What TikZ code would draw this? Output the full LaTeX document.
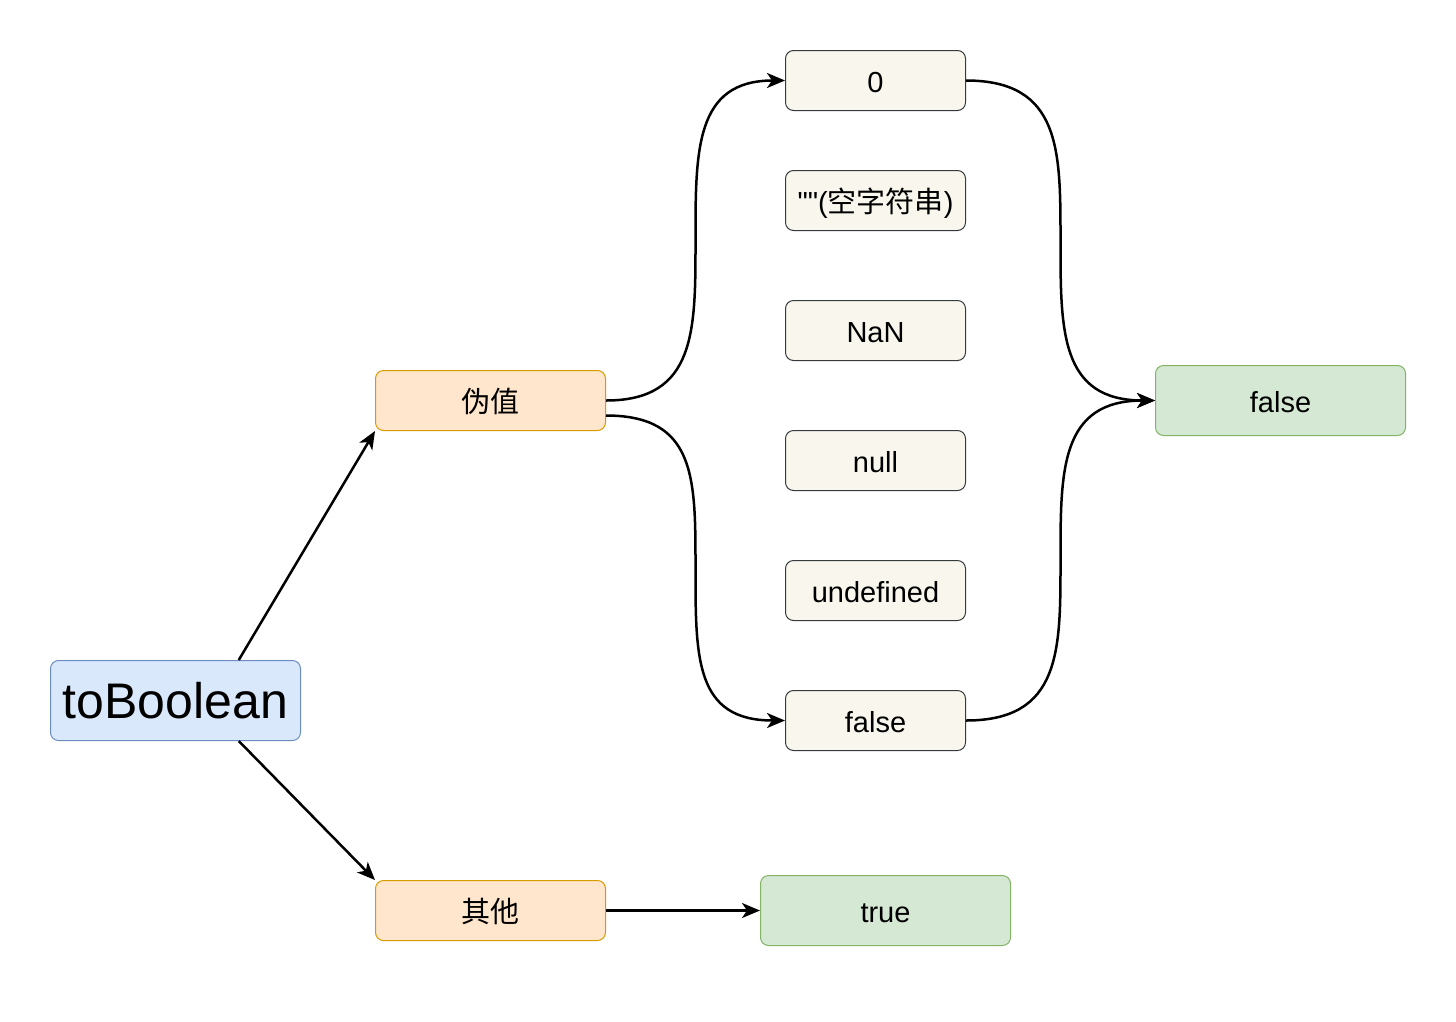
\documentclass[tikz,border=0pt]{standalone}
\usepackage{fontspec}
\setmainfont{Liberation Sans}
\newfontfamily\rawfont{Liberation Sans}[Ligatures=TeXOff]
\newfontfamily\cjk{Noto Sans CJK SC}
\usetikzlibrary{arrows.meta,calc}
\definecolor{bluefill}{HTML}{DAE8FC}
\definecolor{blueline}{HTML}{6C8EBF}
\definecolor{orfill}{HTML}{FFE6CC}
\definecolor{orline}{HTML}{D79B00}
\definecolor{grfill}{HTML}{D5E8D4}
\definecolor{grline}{HTML}{82B366}
\definecolor{bgfill}{HTML}{F9F7ED}
\definecolor{bgline}{HTML}{36393D}
\begin{document}
\begin{tikzpicture}[x=1pt,y=-1pt,
  box/.style={rounded corners=8pt,line width=1pt,inner sep=0pt,anchor=north west,font=\fontsize{29}{31}\selectfont,text height=24pt,text depth=0pt},
  bluebox/.style={box,fill=bluefill,draw=blueline},
  orbox/.style={box,fill=orfill,draw=orline,minimum width=230pt,minimum height=60pt},
  grbox/.style={box,fill=grfill,draw=grline,minimum width=250pt,minimum height=70pt},
  valbox/.style={box,fill=bgfill,draw=bgline,minimum width=180pt,minimum height=60pt},
  arr/.style={line width=2.5pt,-{Stealth[length=18pt,width=15pt,inset=5pt]}}]
\useasboundingbox (0,0) rectangle (1456,1021);
\node[bluebox,minimum width=250pt,minimum height=80pt,font=\fontsize{50}{52}\selectfont,text height=35pt] (tb) at (50,660) {toBoolean};
\node[orbox] (fw) at (375,370) {\cjk 伪值};
\node[orbox] (qt) at (375,880) {\cjk 其他};
\node[valbox] (n0) at (785,50) {0};
\node[valbox] (ne) at (785,170) {{\rawfont ""(}{\cjk 空字符串}{\rawfont )}};
\node[valbox] (nn) at (785,300) {NaN};
\node[valbox] (nl) at (785,430) {null};
\node[valbox] (nu) at (785,560) {undefined};
\node[valbox] (nf) at (785,690) {false};
\node[grbox] (gf) at (1155,365) {false};
\node[grbox] (gt) at (760,875) {true};
\coordinate (tbtop) at ($(tb.north west)!0.752!(tb.north east)$);
\coordinate (tbbot) at ($(tb.south west)!0.752!(tb.south east)$);
\draw[arr] (tbtop) -- (fw.south west);
\draw[arr] (tbbot) -- (qt.north west);
\draw[arr] (qt.east) -- (gt.west);
\coordinate (fwa) at (fw.east);
\coordinate (fwb) at ($(fw.east)+(0,15)$);
\coordinate (m1) at ($(fwa)!.5!(n0.west)$);
\coordinate (m2) at ($(fwb)!.5!(nf.west)$);
\coordinate (m3) at ($(n0.east)!.5!(gf.west)$);
\coordinate (m4) at ($(nf.east)!.5!(gf.west)$);
\draw[arr] (fwa) .. controls +(90,0) and +(0,90) .. (m1) .. controls +(0,-90) and +(-90,0) .. (n0.west);
\draw[arr] (fwb) .. controls +(90,0) and +(0,-90) .. (m2) .. controls +(0,90) and +(-90,0) .. (nf.west);
\draw[arr] (n0.east) .. controls +(95,0) and +(0,-90) .. (m3) .. controls +(0,90) and +(-95,0) .. (gf.west);
\draw[arr] (nf.east) .. controls +(95,0) and +(0,90) .. (m4) .. controls +(0,-90) and +(-95,0) .. (gf.west);
\end{tikzpicture}
\end{document}
